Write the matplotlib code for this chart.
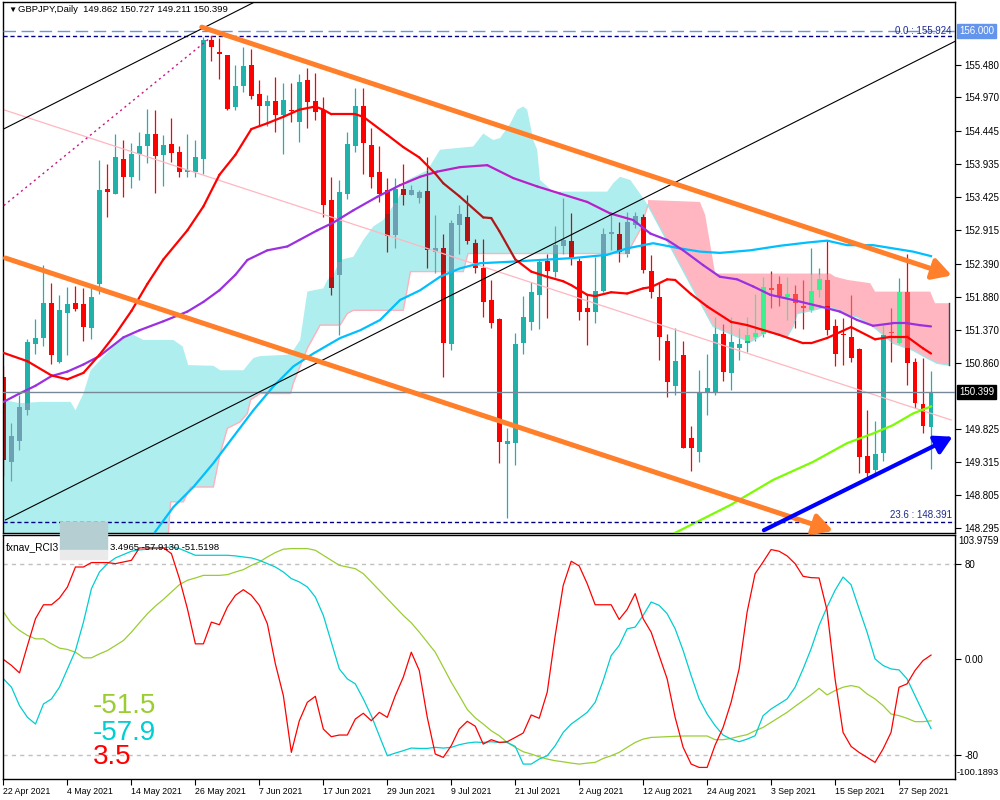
import numpy as np
import matplotlib
matplotlib.use("Agg")
import matplotlib.pyplot as plt
from matplotlib.patches import Rectangle
from matplotlib.collections import LineCollection
from matplotlib.transforms import blended_transform_factory

plt.rcParams['font.family'] = ['Liberation Sans', 'DejaVu Sans']

# GBPJPY daily bars, bar 0 = 22 Apr 2021 ... bar 116 = 1 Oct 2021
opens = [150.64, 149.32, 149.65, 150.12, 151.15, 151.24, 151.79, 150.87, 151.63, 151.78,
         151.77, 151.39, 152.08, 153.55, 153.48, 154.02, 153.73, 154.09, 154.21, 154.41,
         154.08, 154.25, 154.12, 153.82, 153.82, 154.01, 155.86, 155.67, 155.63, 154.82,
         155.15, 155.47, 155.02, 154.83, 154.92, 154.70, 154.78, 154.59, 155.24, 154.91,
         154.78, 153.38, 152.22, 153.48, 154.21, 154.83, 154.23, 153.82, 153.53, 152.84,
         153.55, 153.46, 153.41, 153.52, 152.58, 152.63, 151.15, 152.99, 153.12, 152.72,
         152.32, 151.83, 151.53, 149.60, 149.61, 151.16, 151.49, 151.91, 152.43, 152.27,
         152.67, 152.74, 152.43, 151.71, 151.65, 151.97, 152.85, 152.86, 152.55, 152.99,
         153.12, 152.28, 151.88, 151.19, 150.50, 150.98, 149.69, 149.48, 150.38, 150.38,
         151.30, 150.70, 151.08, 151.17, 151.26, 151.31, 152.01, 152.07, 151.88, 151.93,
         151.73, 151.67, 151.98, 152.14, 151.42, 151.30, 151.26, 151.07, 149.41, 149.20,
         149.46, 151.34, 151.16, 151.96, 150.87, 150.22, 149.862]
highs = [150.80, 149.93, 150.36, 151.22, 151.53, 152.37, 152.10, 151.90, 152.03, 152.05,
         152.01, 152.01, 154.00, 153.94, 154.40, 154.31, 154.26, 154.44, 154.79, 154.78,
         154.39, 154.65, 154.21, 154.41, 154.31, 155.90, 155.924, 155.89, 155.63, 155.47,
         155.76, 155.72, 155.24, 155.01, 155.29, 155.19, 155.19, 155.34, 155.42, 155.35,
         154.98, 153.74, 153.69, 154.44, 155.11, 155.11, 154.49, 154.21, 153.72, 153.72,
         153.94, 153.61, 153.53, 154.05, 153.15, 152.86, 153.07, 153.30, 153.46, 152.78,
         152.77, 152.14, 151.55, 149.84, 151.32, 151.89, 152.11, 152.45, 152.55, 152.97,
         153.41, 153.18, 152.48, 151.93, 152.50, 152.94, 153.20, 153.04, 153.20, 153.20,
         153.17, 152.53, 152.09, 151.31, 151.40, 151.19, 149.87, 150.74, 150.99, 151.57,
         151.46, 151.57, 151.39, 151.57, 151.93, 152.19, 152.28, 152.20, 152.19, 152.06,
         152.14, 152.63, 152.32, 152.76, 151.53, 151.55, 151.91, 151.08, 150.12, 149.96,
         151.44, 151.70, 152.17, 152.54, 150.93, 150.93, 150.727]
lows = [149.10, 149.03, 149.50, 150.05, 150.99, 151.11, 150.84, 150.85, 150.97, 151.66,
        151.20, 151.23, 151.93, 153.11, 153.47, 153.43, 153.57, 153.69, 153.95, 153.49,
        153.59, 153.97, 153.74, 153.74, 153.74, 153.79, 155.54, 155.26, 154.78, 154.78,
        155.06, 154.94, 154.53, 154.52, 154.44, 154.10, 154.59, 154.28, 154.49, 154.62,
        153.12, 151.91, 151.29, 153.40, 154.13, 153.79, 153.56, 153.35, 152.58, 152.63,
        153.30, 153.45, 153.33, 152.32, 152.25, 150.64, 151.05, 152.55, 152.70, 152.25,
        151.57, 151.39, 149.30, 148.45, 149.27, 151.00, 151.36, 151.38, 151.55, 152.19,
        152.55, 152.37, 151.52, 151.13, 151.47, 151.95, 152.60, 152.42, 152.50, 152.95,
        152.25, 151.86, 150.90, 150.33, 150.36, 149.53, 149.18, 149.32, 150.05, 150.36,
        150.57, 150.43, 150.90, 151.03, 151.20, 151.25, 151.70, 151.74, 151.52, 151.39,
        151.38, 151.64, 151.88, 151.29, 150.80, 150.82, 150.87, 149.14, 149.05, 149.10,
        149.33, 150.87, 151.14, 150.51, 150.15, 149.76, 149.211]
closes = [149.35, 149.72, 150.17, 151.18, 151.24, 151.79, 150.97, 151.67, 151.77, 151.69,
          151.41, 151.87, 153.53, 153.51, 154.05, 153.73, 154.10, 154.22, 154.41, 154.07,
          154.23, 154.11, 153.82, 153.84, 154.05, 155.86, 155.75, 155.64, 154.79, 155.15,
          155.46, 154.99, 154.83, 154.92, 154.70, 154.93, 154.76, 155.21, 154.90, 154.75,
          153.30, 152.01, 153.51, 154.25, 154.84, 154.26, 153.73, 153.48, 152.82, 153.55,
          153.46, 153.53, 153.51, 152.60, 152.63, 151.16, 153.03, 153.16, 152.75, 152.32,
          151.80, 151.48, 149.63, 149.64, 151.15, 151.57, 151.95, 152.42, 152.28, 152.68,
          152.76, 152.48, 151.64, 151.65, 151.97, 152.86, 152.88, 152.57, 153.04, 153.13,
          152.29, 151.96, 151.25, 150.56, 150.88, 149.54, 149.53, 150.40, 150.47, 151.31,
          150.72, 151.18, 151.15, 151.28, 151.32, 152.03, 151.98, 151.89, 151.93, 151.78,
          151.71, 151.97, 152.15, 151.36, 151.00, 151.29, 150.93, 149.40, 149.14, 149.44,
          151.29, 151.32, 151.96, 150.86, 150.24, 149.87, 150.399]

date_ticks = [0, 8, 16, 24, 32, 40, 48, 56, 64, 72, 80, 88, 96, 104, 112]
date_labels = ["22 Apr 2021", "4 May 2021", "14 May 2021", "26 May 2021", "7 Jun 2021",
               "17 Jun 2021", "29 Jun 2021", "9 Jul 2021", "21 Jul 2021", "2 Aug 2021",
               "12 Aug 2021", "24 Aug 2021", "3 Sep 2021", "15 Sep 2021", "27 Sep 2021"]
price_ticks = [155.480, 154.970, 154.445, 153.935, 153.425, 152.915, 152.390, 151.880,
               151.370, 150.860, 149.825, 149.315, 148.805, 148.295]

# moving averages (bar, value)
red_ma_bar = [0, 3, 6, 8, 10, 12, 14, 16, 18, 20, 23, 25, 27, 29, 31, 33, 35, 37, 39, 40,
              41, 44, 45, 48, 50, 52, 54, 55, 57, 60, 61, 62, 64, 66, 68, 70, 71, 73, 74,
              76, 78, 80, 81, 83, 84, 86, 88, 91, 93, 97, 100, 101, 103, 106, 109, 111,
              113, 115, 116]
red_ma_val = [151.01, 150.88, 150.66, 150.60, 150.70, 150.98, 151.30, 151.66, 152.08,
              152.46, 152.91, 153.28, 153.77, 154.08, 154.48, 154.57, 154.67, 154.78,
              154.83, 154.78, 154.71, 154.71, 154.67, 154.39, 154.20, 154.04, 153.79,
              153.64, 153.44, 153.11, 153.10, 152.90, 152.46, 152.27, 152.19, 152.12,
              152.06, 151.91, 151.89, 151.95, 151.93, 152.01, 152.03, 152.15, 152.14,
              151.92, 151.73, 151.49, 151.44, 151.29, 151.16, 151.16, 151.24, 151.41,
              151.22, 151.26, 151.26, 151.08, 151.00]
purple_ma_bar = [0, 2, 4, 6, 8, 10, 12, 15, 17, 20, 23, 25, 27, 29, 30.5, 33, 35.5, 37,
                 39.25, 41.25, 43.75, 46.75, 49.6, 52.1, 54.25, 57.1, 60.5, 63.75, 66.75,
                 69.6, 73, 75.9, 78.75, 80.9, 83, 85, 87.5, 89.6, 91.75, 93.75, 95.9,
                 98.75, 102.1, 104.6, 106.75, 108.75, 111.25, 113, 114.6, 116]
purple_ma_val = [150.25, 150.38, 150.50, 150.65, 150.72, 150.83, 150.96, 151.25, 151.36,
                 151.50, 151.65, 151.80, 151.98, 152.22, 152.45, 152.60, 152.66, 152.76,
                 152.91, 153.03, 153.22, 153.43, 153.61, 153.74, 153.82, 153.89, 153.92,
                 153.72, 153.59, 153.48, 153.35, 153.17, 153.07, 152.86, 152.76, 152.60,
                 152.37, 152.19, 152.15, 152.04, 151.91, 151.83, 151.73, 151.65, 151.52,
                 151.43, 151.47, 151.47, 151.44, 151.42]
blue_ma_bar = [18, 19, 21.25, 23.75, 26.25, 28.75, 31.25, 33.75, 36.25, 38.75, 42.1, 44.6,
               47.1, 49.6, 52.1, 54.6, 57.1, 59.6, 63, 67.1, 71.25, 75.5, 78, 81.25, 84.6,
               87.1, 89.6, 93.4, 97.1, 100.5, 103, 105.5, 108.75, 111.25, 113.75, 116]
blue_ma_val = [148.03, 148.24, 148.62, 148.93, 149.30, 149.71, 150.12, 150.49, 150.80,
               151.00, 151.24, 151.36, 151.52, 151.83, 151.98, 152.19, 152.32, 152.40,
               152.42, 152.45, 152.48, 152.53, 152.63, 152.71, 152.63, 152.58, 152.56,
               152.60, 152.67, 152.72, 152.75, 152.68, 152.68, 152.63, 152.58, 152.51]
green_ma_bar = [83, 84, 90.9, 96.25, 101.25, 105.5, 108.75, 111.25, 113.75, 116]
green_ma_val = [148.10, 148.22, 148.65, 149.04, 149.32, 149.61, 149.76, 149.89, 150.07, 150.18]

# ichimoku cloud edges (bar, price)
cyan_top_bar = [0, 2.1, 4.6, 8.4, 9, 10, 10.9, 12.1, 13.75, 15, 16.25, 17.5, 21.25, 22.4,
                23.1, 26.25, 27.1, 30, 31.25, 32.1, 35.5, 36.25, 37.1, 38, 38.75, 40, 40.5,
                41.25, 42.1, 43.75, 45, 46.25, 47.5, 49.25, 50.5, 53, 54.6, 58.75, 60,
                61.25, 62.1, 63.4, 64.25, 65, 65.5, 66.25, 66.75, 67.1, 68.75, 75.5, 76.25,
                77.1, 78.4, 79.6, 80.6]
cyan_top_val = [150.28, 150.23, 150.25, 150.25, 150.12, 150.38, 150.74, 150.90, 151.11,
                151.27, 151.29, 151.21, 151.21, 151.11, 150.82, 150.81, 150.74, 150.74,
                150.93, 150.96, 150.98, 151.05, 151.21, 151.96, 151.98, 152.01, 152.14,
                152.22, 152.45, 152.50, 152.76, 152.97, 153.07, 153.38, 153.69, 153.84,
                154.16, 154.21, 154.41, 154.31, 154.34, 154.57, 154.78, 154.83, 154.78,
                154.31, 154.16, 153.69, 153.51, 153.51, 153.64, 153.74, 153.69, 153.48,
                153.30]
cyan_bot_bar = [0, 20.5, 20.9, 22.5, 23.4, 26.25, 27.1, 28, 29.6, 30.5, 30.9, 32.1, 35.9,
                36.25, 38, 39.6, 42.1, 43, 43.75, 50, 50.9, 57.5, 58.1, 78, 79.6, 80.6]
cyan_bot_val = [148.0, 148.0, 148.70, 148.70, 148.93, 148.93, 149.45, 149.84, 149.94,
                150.07, 150.28, 150.38, 150.38, 150.54, 151.08, 151.44, 151.44, 151.62,
                151.67, 151.67, 152.27, 152.27, 152.55, 152.55, 152.91, 153.30]
pink_top_bar = [80.6, 87.1, 87.75, 88.4, 89, 103.4, 104, 105.6, 108.4, 109, 115.9, 116.5,
                118.25]
pink_top_val = [153.38, 153.35, 153.15, 152.68, 152.24, 152.24, 152.19, 152.14, 152.09,
                151.96, 151.96, 151.78, 151.78]
pink_bot_bar = [80.6, 88.75, 91.75, 93.4, 95.5, 98, 98.75, 99.25, 101.25, 103, 104.6,
                105.5, 106.75, 108.75, 111.25, 113.75, 115.5, 116.75, 118.25]
pink_bot_val = [153.30, 151.42, 151.26, 151.18, 151.34, 151.26, 151.42, 151.62, 151.67,
                151.73, 151.67, 151.60, 151.57, 151.42, 151.16, 151.05, 150.93, 150.85,
                150.82]

# RCI 3 lines, one value per bar
rci_fast = [-0.2, -5.2, -11.4, 11.5, 33.9, 45.6, 45.6, 51.2, 60.5, 77.2,
            77.2, 80.9, 80.9, 80.9, 80.0, 81.4, 82.8, 93.2, 93.2, 93.2,
            93.2, 88.4, 67.5, 42.3, 12.9, 12.9, 31.1, 28.9, 43.7, 53.5,
            58.2, 53.5, 45.1, 29.7, -3.8, -30.4, -77.9, -51.4, -36.0, -31.0,
            -58.4, -64.8, -63.4, -63.4, -50.0, -45.2, -51.4, -44.4, -48.6, -30.4,
            -15.0, 5.9, -9.4, -48.6, -79.3, -82.1, -72.3, -58.4, -51.9, -56.0,
            -71.0, -67.3, -69.6, -69.0, -65.4, -61.7, -46.6, -49.4, -27.6, 19.9,
            61.8, 82.0, 78.1, 63.3, 45.6, 45.6, 45.6, 33.3, 41.7, 54.9,
            33.9, 22.7, 3.1, -16.4, -48.6, -73.7, -87.7, -90.5, -90.5, -71.8,
            -57.0, -36.0, -8.1, 39.5, 71.6, 81.4, 91.8, 90.4, 86.5, 80.0,
            69.4, 68.3, 68.0, 40.9, -16.4, -61.2, -72.9, -77.9, -82.1, -86.3,
            -75.1, -61.2, -23.4, -20.6, -9.4, -1.1, 3.5]
rci_mid = [-16.4, -23.4, -38.8, -48.6, -54.2, -37.4, -33.2, -23.4, -8.1, 7.3,
           31.1, 59.1, 73.0, 80.0, 84.8, 87.6, 90.4, 91.5, 92.1, 92.6,
           93.2, 94.0, 92.6, 89.8, 87.0, 87.0, 87.0, 87.0, 87.0, 86.5,
           85.6, 84.8, 82.8, 80.0, 77.2, 73.0, 67.5, 64.7, 60.5, 52.1,
           36.7, 14.3, -8.1, -16.4, -20.6, -33.2, -47.2, -64.0, -80.7, -78.5,
           -76.5, -74.3, -74.6, -74.6, -73.7, -74.3, -73.7, -71.5, -70.1, -69.3,
           -69.6, -69.0, -69.6, -69.6, -72.9, -87.7, -87.7, -83.5, -80.7, -72.3,
           -61.2, -54.2, -49.4, -44.4, -36.0, -17.8, 3.1, 11.5, 25.5, 26.9,
           36.7, 47.9, 45.1, 38.1, 25.5, 7.3, -13.6, -33.2, -45.8, -55.6,
           -63.4, -66.8, -69.0, -66.8, -64.0, -47.2, -41.6, -37.4, -33.2, -23.4,
           -8.1, 8.7, 28.3, 43.7, 57.7, 68.8, 62.4, 42.3, 22.7, 0.3,
           -5.2, -8.1, -8.9, -16.4, -30.4, -44.4, -57.9]
rci_slow = [39.5, 29.7, 24.1, 19.9, 17.1, 17.1, 12.9, 9.3, 8.2, 5.9,
            1.2, 1.2, 4.5, 7.3, 11.5, 15.7, 22.7, 30.5, 38.1, 44.5,
            50.1, 56.3, 62.4, 66.1, 68.0, 70.2, 70.2, 70.2, 70.8, 73.0,
            75.0, 78.6, 81.4, 85.6, 89.3, 92.1, 92.6, 92.6, 92.6, 91.2,
            87.0, 82.8, 78.6, 77.2, 75.8, 71.6, 64.7, 57.7, 50.7, 43.7,
            36.7, 30.5, 22.7, 14.3, 5.9, -6.6, -19.2, -30.4, -42.0, -49.0,
            -54.2, -59.8, -64.0, -69.6, -73.7, -77.4, -79.3, -81.6, -83.5, -84.9,
            -85.8, -86.9, -87.7, -86.9, -86.3, -83.0, -80.7, -77.9, -73.7, -69.6,
            -66.8, -65.4, -65.1, -64.8, -64.5, -64.2, -64.2, -64.2, -64.2, -67.3,
            -67.3, -66.2, -64.5, -63.1, -59.8, -57.0, -52.8, -48.6, -44.4, -39.4,
            -34.6, -29.8, -24.3, -29.8, -26.2, -23.4, -22.0, -23.4, -29.0, -33.2,
            -38.8, -45.8, -47.2, -49.4, -52.2, -52.2, -51.5]

last_price = 150.399
fib_0 = 155.924
fib_236 = 148.391
alert_level = 156.000

fig = plt.figure(figsize=(10, 8), dpi=100)
ax = fig.add_axes([0.0027, 0.33375, 0.9523, 0.66375])
ax2 = fig.add_axes([0.0027, 0.02625, 0.9523, 0.305], sharex=ax)

# clouds
ax.fill(cyan_top_bar + cyan_bot_bar[::-1], cyan_top_val + cyan_bot_val[::-1],
        color='#AFEEEE', lw=0, zorder=1)
ax.fill(pink_top_bar + pink_bot_bar[::-1], pink_top_val + pink_bot_val[::-1],
        color='#FFB6C1', lw=0, zorder=1)
ax.plot(cyan_bot_bar[1:], cyan_bot_val[1:], color='#FFB0BC', lw=1, zorder=1.2)
ax.plot(pink_bot_bar, pink_bot_val, color='#9EE6E6', lw=1, zorder=1.2)
ax.plot([pink_top_bar[-1]] * 2, [pink_bot_val[-1], pink_top_val[-1]], color='#2F4F4F',
        lw=1, zorder=1.3)


def cloud_range(k):
    if cyan_top_bar[0] <= k <= cyan_top_bar[-1]:
        return (np.interp(k, cyan_bot_bar, cyan_bot_val),
                np.interp(k, cyan_top_bar, cyan_top_val), 'cyan')
    if pink_top_bar[0] <= k <= pink_top_bar[-1]:
        return (np.interp(k, pink_bot_bar, pink_bot_val),
                np.interp(k, pink_top_bar, pink_top_val), 'pink')
    return None


def in_cyan(k, v):
    cr = cloud_range(k)
    return cr is not None and cr[2] == 'cyan' and cr[0] <= v <= cr[1]


def split(a, b, lo, hi):
    cuts = sorted(set([a, b] + [v for v in (lo, hi) if a < v < b]))
    out = []
    for s, e in zip(cuts[:-1], cuts[1:]):
        m = (s + e) / 2
        out.append((s, e, lo <= m <= hi))
    return out


colors = {('bull', None): '#20B2AA', ('bear', None): '#FF0000',
          ('bull', 'cyan'): '#6EA0B4', ('bear', 'cyan'): '#B01414',
          ('bull', 'pink'): '#3CF090', ('bear', 'pink'): '#FF4646'}

for k in range(len(opens)):
    o, h, l, c = opens[k], highs[k], lows[k], closes[k]
    kind = 'bull' if c >= o else 'bear'
    cr = cloud_range(k)
    lo, hi, cname = cr if cr else (0, 0, None)
    for s, e, inside in split(l, h, lo, hi):
        ax.vlines(k, s, e, color=colors[(kind, cname if inside else None)],
                  lw=0.9, zorder=2)
    b0, b1 = min(o, c), max(o, c)
    if b1 - b0 < 0.015:
        b1 = b0 + 0.015
    for s, e, inside in split(b0, b1, lo, hi):
        ax.bar(k, e - s, bottom=s, width=0.62,
               color=colors[(kind, cname if inside else None)], lw=0, zorder=2.1)


def ma_line(xs, ys, col, col_cloud):
    pts = np.column_stack([xs, ys])
    segs = np.stack([pts[:-1], pts[1:]], axis=1)
    cols = [col_cloud if in_cyan((a[0] + b[0]) / 2, (a[1] + b[1]) / 2) else col
            for a, b in segs]
    ax.add_collection(LineCollection(segs, colors=cols, linewidths=1.6, zorder=3,
                                     capstyle='round'))


# moving averages
ax.plot(green_ma_bar, green_ma_val, color='#7CFC00', lw=1.6, zorder=3)
ax.plot(blue_ma_bar, blue_ma_val, color='#00BFFF', lw=1.6, zorder=3)
ma_line(purple_ma_bar, purple_ma_val, '#9B30E0', '#B820C8')
ma_line(red_ma_bar, red_ma_val, '#FF0000', '#B01818')

# horizontal levels
ax.axhline(alert_level, color='#6495ED', lw=1, dashes=(9, 4), zorder=3)
ax.axhline(fib_0, color='#000080', lw=1, dashes=(3, 2), zorder=3)
ax.axhline(fib_236, color='#000080', lw=1, dashes=(3, 2), zorder=3)
ax.axhline(last_price, color='#778899', lw=1, zorder=3)
ax.text(118.6, fib_0 + 0.005, '0.0 : 155.924', color='#1E2A8C', fontsize=7,
        ha='right', va='bottom', zorder=4)
ax.text(118.6, fib_236 + 0.02, '23.6 : 148.391', color='#1E2A8C', fontsize=7,
        ha='right', va='bottom', zorder=4)

# drawn trend lines
ax.plot([0, 118.5], [154.78, 149.97], color='#FFB6C1', lw=0.9, zorder=2.5)
ax.plot([-0.5, 26.2], [153.24, 155.93], color='#C71585', lw=1, ls=(0, (1.5, 2.5)), zorder=3)
ax.plot([0.25, 119], [148.42, 155.84], color='black', lw=0.8, zorder=3)
ax.plot([0, 33], [154.48, 156.55], color='black', lw=0.8, zorder=3)
arrow_orange = dict(arrowstyle='-|>,head_length=0.8,head_width=0.45', color='#FF7F2A',
                    lw=3.6, mutation_scale=14, shrinkA=0, shrinkB=0)
ax.annotate('', xy=(118.6, 152.21), xytext=(24.8, 156.06), arrowprops=arrow_orange,
            zorder=5)
ax.annotate('', xy=(103.75, 148.25), xytext=(0.25, 152.48), arrowprops=arrow_orange,
            zorder=5)
ax.annotate('', xy=(118.7, 149.71), xytext=(95.1, 148.26),
            arrowprops=dict(arrowstyle='-|>,head_length=0.8,head_width=0.45',
                            color='#0000FF', lw=3.0, mutation_scale=13,
                            shrinkA=0, shrinkB=0), zorder=5)

ax.set_xlim(-0.1, 119.0)
ax.set_ylim(148.217, 156.45)
ax.yaxis.tick_right()
ax.set_yticks(price_ticks)
ax.set_yticklabels([f'{p:.3f}' for p in price_ticks])
ax.tick_params(axis='y', direction='out', length=4, pad=3, labelsize=7)
ax.tick_params(axis='x', which='both', bottom=False, labelbottom=False)
for sp in ax.spines.values():
    sp.set_linewidth(1)

trans = blended_transform_factory(ax.transAxes, ax.transData)
ax.text(1.0045, last_price, '150.399', transform=trans, ha='left', va='center',
        color='white', fontsize=7, clip_on=False, zorder=10,
        bbox=dict(boxstyle='square,pad=0.2', fc='black', ec='black'))
ax.text(1.0045, alert_level, '156.000', transform=trans, ha='left', va='center',
        color='white', fontsize=7, clip_on=False, zorder=10,
        bbox=dict(boxstyle='square,pad=0.2', fc='#6495ED', ec='#6495ED'))

# RCI panel
bars = np.arange(len(rci_fast))
ax2.axhline(80, color='#C0C0C0', lw=1, dashes=(3, 3))
ax2.axhline(-80, color='#C0C0C0', lw=1, dashes=(3, 3))
ax2.plot(bars, rci_slow, color='#9ACD32', lw=0.9)
ax2.plot(bars, rci_mid, color='#00CED1', lw=0.9)
ax2.plot(bars, rci_fast, color='#FF0000', lw=0.9)
ax2.set_ylim(-100.1893, 103.9759)
ax2.yaxis.tick_right()
ax2.set_yticks([80, 0, -80])
ax2.set_yticklabels(['80', '0.00', '-80'])
ax2.tick_params(axis='y', direction='out', length=4, pad=3, labelsize=7)
ax2.text(1.003, 0.995, '103.9759', transform=ax2.transAxes, ha='left', va='top',
         fontsize=7)
ax2.text(1.0015, 0.01, '-100.1893', transform=ax2.transAxes, ha='left', va='bottom',
         fontsize=6.7)
ax2.set_xticks(date_ticks)
ax2.set_xticklabels(date_labels, ha='left')
ax2.tick_params(axis='x', direction='out', length=4, pad=1.5, labelsize=6.3)
for sp in ax2.spines.values():
    sp.set_linewidth(1)

ax2.text(0.0035, 0.95, 'fxnav_RCI3', transform=ax2.transAxes, fontsize=7.3, va='center')
ax2.text(0.113, 0.95, '3.4965 -57.9130 -51.5198', transform=ax2.transAxes,
         fontsize=6.8, va='center')
ax2.text(0.095, 0.30, '-51.5', transform=ax2.transAxes, fontsize=20, color='#9ACD32',
         va='center')
ax2.text(0.095, 0.19, '-57.9', transform=ax2.transAxes, fontsize=20, color='#00CED1',
         va='center')
ax2.text(0.095, 0.09, '3.5', transform=ax2.transAxes, fontsize=20, color='#FF0000',
         va='center')

# header
fig.text(0.008, 1 - 10 / 800, '\u25bc', fontsize=6, va='center')
fig.text(0.018, 1 - 10 / 800, 'GBPJPY,Daily  149.862 150.727 149.211 150.399',
         fontsize=6.8, va='center')

# masked box over the indicator name
fig.patches.append(Rectangle((0.060, 1 - 550 / 800), 0.047, 28 / 800,
                             transform=fig.transFigure, color='#B4CED2', zorder=20))
fig.patches.append(Rectangle((0.060, 1 - 559 / 800), 0.047, 9 / 800,
                             transform=fig.transFigure, color='#EAEAEA', zorder=20))

fig.savefig('out.png', dpi=100)
